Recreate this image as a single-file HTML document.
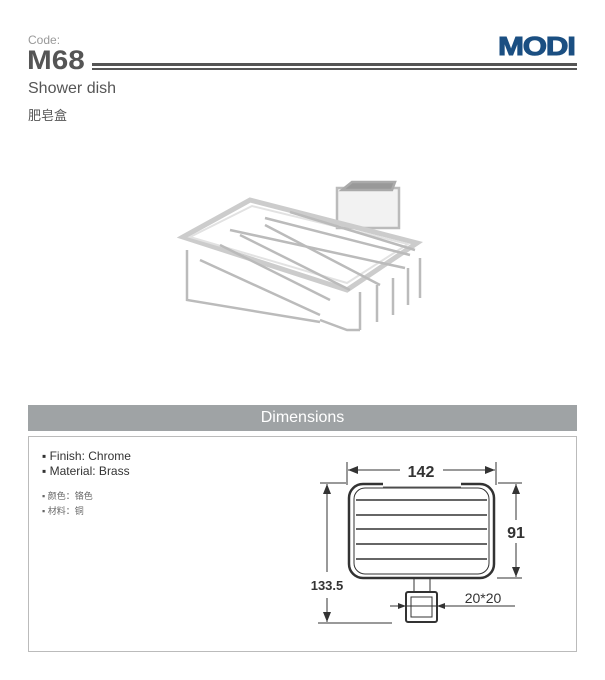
<!DOCTYPE html>
<html><head><meta charset="utf-8"><style>
body{margin:0;width:605px;height:680px;background:#fff;position:relative;font-family:"Liberation Sans","Noto Sans CJK SC",sans-serif;overflow:hidden}
.a{position:absolute;white-space:nowrap}
</style></head><body>
<div class="a" style="left:28px;top:33px;font-size:12px;color:#999">Code:</div>
<div class="a" style="left:27px;top:45px;font-size:27px;font-weight:bold;color:#555;transform:scaleX(1.1);transform-origin:left">M68</div>
<div style="position:absolute;left:92px;top:63px;width:485px;height:3px;background:#555"></div>
<div style="position:absolute;left:92px;top:68px;width:485px;height:2px;background:#555"></div>
<div class="a" style="left:498px;top:31px;font-size:26px;font-weight:bold;color:#1b4f82;letter-spacing:-1px;transform:scaleX(1.2);transform-origin:left;-webkit-text-stroke:1px #1b4f82">MODI</div>
<div class="a" style="left:28px;top:80px;font-size:16px;color:#555">Shower dish</div>
<div class="a" style="left:28px;top:105px;font-size:13px;color:#555">肥皂盒</div>

<svg class="a" style="left:0;top:0" width="605" height="680">
<g fill="none" stroke="#bbb" stroke-width="2.5">
<rect x="337" y="188" width="62" height="40" fill="#f2f2f2"/>
<polygon points="342,190 352,182 395,182 392,190" fill="#999" stroke="#aaa"/>
<polygon points="183,237 250,200 417,243 347,290" stroke="#ccc" stroke-width="5"/>
<polygon points="190,237 252,206 408,244 347,283" stroke="#e2e2e2" stroke-width="2"/>
<path d="M187,250 L187,300 L320,322 M200,260 L320,315 M220,245 L330,300 M240,235 L350,290 M265,225 L380,285"/>
<path d="M360,292 L360,330 M377,285 L377,322 M393,278 L393,315 M408,268 L408,305 M420,258 L420,298 M320,320 L347,330 L360,330"/>
<path d="M230,230 L405,268 M265,218 L410,255 M290,212 L415,250"/>
</g>
</svg>

<div style="position:absolute;left:28px;top:405px;width:549px;height:26px;background:#9fa3a5"></div>
<div class="a" style="left:28px;top:409px;width:549px;text-align:center;font-size:16px;color:#fff">Dimensions</div>
<div style="position:absolute;left:28px;top:436px;width:547px;height:214px;border:1px solid #bbb"></div>
<div class="a" style="left:42px;top:449px;font-size:12px;color:#333;line-height:15px">▪ Finish: Chrome<br>▪ Material: Brass</div>
<div class="a" style="left:42px;top:489px;font-size:9px;color:#666;line-height:15px">▪ 颜色：铬色<br>▪ 材料：铜</div>

<svg class="a" style="left:0;top:0" width="605" height="680">
<g stroke="#333" fill="none" stroke-width="1">
<line x1="347" y1="462" x2="347" y2="485"/><line x1="496" y1="462" x2="496" y2="485"/>
<line x1="348" y1="470" x2="400" y2="470"/><line x1="443" y1="470" x2="495" y2="470"/>
<line x1="320" y1="483" x2="346" y2="483"/><line x1="498" y1="483" x2="522" y2="483"/>
<line x1="497" y1="578" x2="522" y2="578"/>
<line x1="516" y1="484" x2="516" y2="520"/><line x1="516" y1="543" x2="516" y2="577"/>
<line x1="327" y1="484" x2="327" y2="572"/><line x1="327" y1="598" x2="327" y2="622"/>
<line x1="318" y1="623" x2="392" y2="623"/>
<line x1="390" y1="606" x2="515" y2="606"/>
<rect x="349" y="484" width="145" height="94" rx="14" stroke-width="2.5"/>
<rect x="354" y="488" width="135" height="86" rx="11"/>
<line x1="383" y1="484" x2="461" y2="484" stroke="#fff" stroke-width="3"/>
<line x1="383" y1="487" x2="461" y2="487" stroke="#666"/>
<g stroke="#666" stroke-width="2">
<line x1="356" y1="500" x2="487" y2="500"/>
<line x1="356" y1="515" x2="487" y2="515"/>
<line x1="356" y1="529" x2="487" y2="529"/>
<line x1="356" y1="544" x2="487" y2="544"/>
<line x1="356" y1="559" x2="487" y2="559"/>
</g>
<line x1="414" y1="578" x2="414" y2="592"/><line x1="430" y1="578" x2="430" y2="592"/>
<rect x="406" y="592" width="31" height="30" rx="2" stroke-width="2"/>
<rect x="411" y="597" width="21" height="20"/>
</g>
<g fill="#333">
<polygon points="348,470 358,466 358,474"/><polygon points="495,470 485,466 485,474"/>
<polygon points="516,484 512,494 520,494"/><polygon points="516,577 512,567 520,567"/>
<polygon points="327,484 323,494 331,494"/><polygon points="327,622 323,612 331,612"/>
<polygon points="406,606 398,603 398,609"/><polygon points="437,606 445,603 445,609"/>
</g>
<text x="421" y="477" font-family="Liberation Sans" font-weight="bold" font-size="16" fill="#333" text-anchor="middle">142</text>
<text x="516" y="538" font-family="Liberation Sans" font-weight="bold" font-size="16" fill="#333" text-anchor="middle">91</text>
<text x="327" y="590" font-family="Liberation Sans" font-weight="bold" font-size="13" fill="#333" text-anchor="middle">133.5</text>
<text x="483" y="603" font-family="Liberation Sans" font-size="14" fill="#333" text-anchor="middle">20*20</text>
</svg>
</body></html>
